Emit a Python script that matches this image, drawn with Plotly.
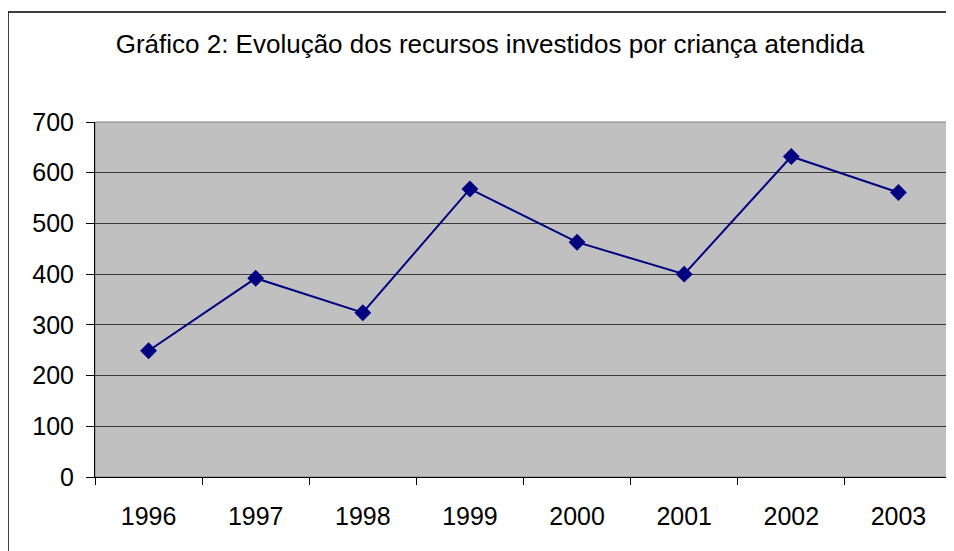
import plotly.graph_objects as go

years = ["1996", "1997", "1998", "1999", "2000", "2001", "2002", "2003"]
recursos = [249, 392, 324, 568, 463, 400, 632, 561]
y_ticks = [0, 100, 200, 300, 400, 500, 600, 700]

FONT = "Liberation Sans, Arial, sans-serif"

# page body has an 8px margin, so positions are shifted by 8px
L, T, W_PLOT, H_PLOT = 87, 114, 857, 355

fig = go.Figure()
fig.add_trace(go.Scatter(
    x=years,
    y=recursos,
    mode="lines+markers",
    line=dict(color="#000080", width=2),
    marker=dict(symbol="diamond", size=13, color="#000080"),
    showlegend=False,
))

fig.update_layout(
    width=954,
    height=551,
    margin=dict(l=L, r=954 - L - W_PLOT, t=T, b=551 - T - H_PLOT),
    paper_bgcolor="white",
    plot_bgcolor="#C0C0C0",
    font=dict(family=FONT, size=25, color="black"),
    title=dict(
        text="Gráfico 2: Evolução dos recursos investidos por criança atendida",
        x=(482 - L) / W_PLOT, xref="paper", xanchor="center",
        y=1 - 36 / 551, yref="container", yanchor="middle",
        font=dict(family=FONT, size=26, color="black"),
    ),
    xaxis=dict(
        type="category",
        range=[-0.5, 7.5],
        tickson="boundaries",
        ticks="outside",
        ticklen=7,
        tickcolor="black",
        showline=True,
        linecolor="black",
        linewidth=1,
        showgrid=False,
        ticklabelstandoff=17,
    ),
    yaxis=dict(
        range=[0, 700],
        tickvals=y_ticks,
        ticks="outside",
        ticklen=8,
        tickcolor="black",
        showline=True,
        linecolor="black",
        linewidth=1,
        showgrid=True,
        gridcolor="#383838",
        gridwidth=1,
        zeroline=False,
        ticklabelstandoff=7,
    ),
    shapes=[
        # plot area border
        dict(type="rect", xref="paper", yref="paper", x0=0, x1=1, y0=0, y1=1,
             line=dict(color="#808080", width=1), layer="below"),
        # chart outer border
        dict(type="rect", xref="paper", yref="paper",
             x0=(0 - L) / W_PLOT, x1=1.1, y0=-0.4, y1=(T + H_PLOT - 4) / H_PLOT,
             line=dict(color="black", width=1.5)),
    ],
)

fig.write_html("out.html")
